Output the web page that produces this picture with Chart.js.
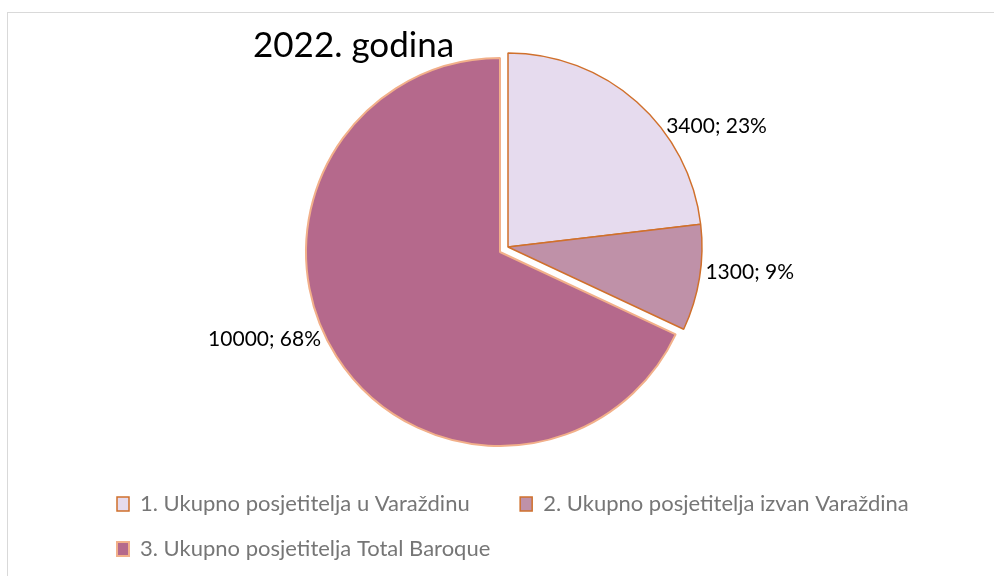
<!DOCTYPE html>
<html>
<head>
<meta charset="utf-8">
<script src="https://cdn.jsdelivr.net/npm/chart.js@4.4.0/dist/chart.umd.min.js"></script>
<style>
  html, body { margin: 0; padding: 0; background: #fff; overflow: hidden; }
  .frame { position: absolute; left: 7px; top: 12px; width: 1000px; height: 600px; border: 1px solid #d9d9d9; }
  .wrap { position: absolute; left: 0; top: 0; width: 994px; height: 576px; }
</style>
</head>
<body>
<div class="frame"></div>
<div class="wrap"><canvas id="chart"></canvas></div>
<script>
const categories = [
    '1. Ukupno posjetitelja u Varaždinu',
    '2. Ukupno posjetitelja izvan Varaždina',
    '3. Ukupno posjetitelja Total Baroque'
];
const visitors = [3400, 1300, 10000];
const titleText = '2022. godina';

const sliceColors = ['#E6DBEE', '#BF91A8', '#B5698C'];
const sliceBorders = ['#D0702C', '#D0702C', '#F2B08A'];
const exploded = [true, true, false];
// label angle tweaks (degrees), Excel "best fit" doesn't sit exactly on the bisector
const labelNudge = [11, -2, 6.5];

const FONT = 'Lato, "Open Sans", sans-serif';

// move the pie left of the chart area centre and pull slices 1 and 2 out together
const pieShift = {
    id: 'pieShift',
    afterDatasetsUpdate(chart, args, opts) {
        const meta = chart.getDatasetMeta(0);
        meta.data.forEach((arc, i) => {
            arc.x += opts.dx + (exploded[i] ? opts.explodeX : 0);
            arc.y += (exploded[i] ? opts.explodeY : 0);
        });
    }
};

const sliceLabels = {
    id: 'sliceLabels',
    afterDatasetsDraw(chart) {
        const ctx = chart.ctx;
        const meta = chart.getDatasetMeta(0);
        const total = visitors.reduce((a, b) => a + b, 0);
        ctx.save();
        ctx.font = '21px ' + FONT;
        ctx.fillStyle = '#000';
        ctx.textBaseline = 'middle';
        meta.data.forEach((arc, i) => {
            const p = arc.getProps(['x', 'y', 'startAngle', 'endAngle', 'outerRadius']);
            const a = (p.startAngle + p.endAngle) / 2 + labelNudge[i] * Math.PI / 180;
            const r = p.outerRadius + 5;
            ctx.textAlign = Math.cos(a) >= 0 ? 'left' : 'right';
            const txt = visitors[i] + '; ' + Math.round(visitors[i] / total * 100) + '%';
            ctx.fillText(txt, p.x + Math.cos(a) * r, p.y + Math.sin(a) * r);
        });
        ctx.restore();
    }
};

const chartTitle = {
    id: 'chartTitle',
    afterDraw(chart) {
        const ctx = chart.ctx;
        ctx.save();
        ctx.font = '35px ' + FONT;
        ctx.fillStyle = '#000';
        ctx.textAlign = 'left';
        ctx.textBaseline = 'alphabetic';
        ctx.fillText(titleText, 253, 57);
        ctx.restore();
    }
};

const defaultLabels = Chart.overrides.pie.plugins.legend.labels.generateLabels;

new Chart(document.getElementById('chart'), {
    type: 'pie',
    data: {
        labels: categories,
        datasets: [{
            data: visitors,
            backgroundColor: sliceColors,
            borderColor: sliceBorders,
            borderWidth: [1.5, 1.5, 2],
            radius: 194
        }]
    },
    options: {
        responsive: true,
        maintainAspectRatio: false,
        animation: false,
        layout: { padding: { left: 94, right: 0, top: 34, bottom: 6 } },
        plugins: {
            pieShift: { dx: -44, explodeX: 8, explodeY: -5 },
            tooltip: { enabled: false },
            legend: {
                position: 'bottom',
                align: 'start',
                labels: {
                    boxWidth: 12,
                    boxHeight: 14,
                    padding: 23,
                    color: '#767676',
                    font: { family: FONT, size: 22 },
                    // a bit more room between the two items on the first row
                    generateLabels: (chart) => defaultLabels(chart).map(l => {
                        l.text = l.text + '\u2003\u2002';
                        return l;
                    })
                }
            }
        }
    },
    plugins: [pieShift, sliceLabels, chartTitle]
});
</script>
</body>
</html>
